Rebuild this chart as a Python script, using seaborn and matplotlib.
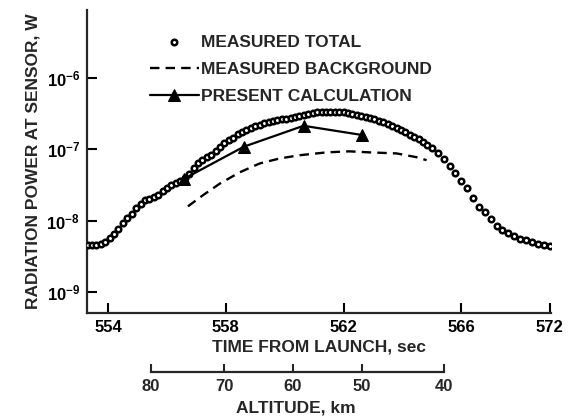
import matplotlib
matplotlib.use("Agg")
import matplotlib.pyplot as plt
from matplotlib.ticker import NullLocator
import seaborn as sns

# ---- data ----
time_total = [553.30, 553.45, 553.60, 553.75, 553.90, 554.05, 554.20, 554.35, 554.50, 554.65,
              554.80, 554.95, 555.10, 555.25, 555.40, 555.55, 555.70, 555.85, 556.00, 556.15,
              556.30, 556.45, 556.60, 556.75, 556.90, 557.05, 557.20, 557.35, 557.50, 557.65,
              557.80, 557.95, 558.10, 558.25, 558.40, 558.55, 558.70, 558.85, 559.00, 559.15,
              559.30, 559.45, 559.60, 559.75, 559.90, 560.05, 560.20, 560.35, 560.50, 560.65,
              560.80, 560.95, 561.10, 561.25, 561.40, 561.55, 561.70, 561.85, 562.00, 562.15,
              562.30, 562.45, 562.60, 562.75, 562.90, 563.05, 563.20, 563.35, 563.50, 563.65,
              563.80, 563.95, 564.10, 564.25, 564.40, 564.55, 564.70, 564.85, 565.00, 565.20,
              565.40, 565.60, 565.80, 566.00, 566.20, 566.40, 566.60, 566.80, 567.00, 567.20,
              567.40, 567.60, 567.80, 568.00, 568.20, 568.40, 568.60, 568.80, 569.00]
power_total = [4.6e-9, 4.6e-9, 4.6e-9, 4.7e-9, 5.0e-9, 5.7e-9, 6.5e-9, 7.6e-9, 9.2e-9, 1.07e-8,
               1.25e-8, 1.48e-8, 1.72e-8, 1.92e-8, 2.03e-8, 2.12e-8, 2.30e-8, 2.62e-8, 2.88e-8, 3.1e-8,
               3.3e-8, 3.6e-8, 3.95e-8, 4.5e-8, 5.5e-8, 6.3e-8, 7.0e-8, 7.7e-8, 8.4e-8, 9.4e-8,
               1.07e-7, 1.2e-7, 1.32e-7, 1.45e-7, 1.62e-7, 1.75e-7, 1.88e-7, 2.0e-7, 2.1e-7, 2.2e-7,
               2.3e-7, 2.38e-7, 2.46e-7, 2.55e-7, 2.62e-7, 2.68e-7, 2.74e-7, 2.82e-7, 2.9e-7, 2.98e-7,
               3.1e-7, 3.2e-7, 3.26e-7, 3.3e-7, 3.33e-7, 3.35e-7, 3.35e-7, 3.34e-7, 3.28e-7, 3.18e-7,
               3.08e-7, 3.02e-7, 2.94e-7, 2.84e-7, 2.72e-7, 2.62e-7, 2.5e-7, 2.38e-7, 2.25e-7, 2.12e-7,
               2.0e-7, 1.87e-7, 1.73e-7, 1.6e-7, 1.5e-7, 1.38e-7, 1.25e-7, 1.15e-7, 1.04e-7, 8.8e-8,
               7.3e-8, 5.8e-8, 4.7e-8, 3.6e-8, 2.9e-8, 2.05e-8, 1.57e-8, 1.3e-8, 1.04e-8, 8.3e-9,
               7.3e-9, 6.6e-9, 6.0e-9, 5.6e-9, 5.3e-9, 5.0e-9, 4.75e-9, 4.55e-9, 4.45e-9]

time_bg = [556.71, 557.22, 557.80, 558.47, 559.15, 559.83, 560.50, 561.42, 562.20, 562.88,
           563.80, 564.48, 564.82]
power_bg = [1.58e-8, 2.26e-8, 3.3e-8, 4.73e-8, 6.3e-8, 7.4e-8, 8.2e-8, 9.0e-8, 9.3e-8, 9.0e-8,
            8.7e-8, 7.7e-8, 7.0e-8]

time_calc = [556.57, 558.61, 560.64, 562.61]
power_calc = [3.83e-8, 1.08e-7, 2.12e-7, 1.58e-7]

xtick_pos = [554, 558, 562, 566, 569]
xtick_labels = ["554", "558", "562", "566", "572"]
ytick_pos = [1e-9, 1e-8, 1e-7, 1e-6]
ytick_labels = [r"$\mathbf{10^{-9}}$", r"$\mathbf{10^{-8}}$", r"$\mathbf{10^{-7}}$", r"$\mathbf{10^{-6}}$"]
alt_time_pos = [555.45, 557.94, 560.28, 562.63, 565.42]
alt_labels = ["80", "70", "60", "50", "40"]

legend_labels = ["MEASURED TOTAL", "MEASURED BACKGROUND", "PRESENT CALCULATION"]

# ---- style ----
sns.set_style("ticks")
plt.rcParams["font.family"] = ["Liberation Sans", "DejaVu Sans"]
plt.rcParams["font.weight"] = "bold"
plt.rcParams["mathtext.fontset"] = "custom"
plt.rcParams["mathtext.rm"] = "Liberation Sans"
plt.rcParams["mathtext.bf"] = "Liberation Sans:bold"

fig = plt.figure(figsize=(5.75, 4.18), dpi=100)
ax = fig.add_axes([0.1513, 0.2512, 0.8070, 0.7249])

sns.lineplot(x=time_bg, y=power_bg, color="black", lw=1.7, linestyle=(0, (4, 2.6)),
             sort=False, errorbar=None, label=legend_labels[1], ax=ax, zorder=2)
sns.scatterplot(x=time_total, y=power_total, marker="o", s=16, facecolor="white",
                edgecolor="black", linewidth=1.8, label=legend_labels[0], ax=ax, zorder=3)
sns.lineplot(x=time_calc, y=power_calc, color="black", lw=1.6, marker="^", markersize=9,
             markeredgecolor="black", sort=False, errorbar=None, label=legend_labels[2],
             ax=ax, zorder=4)

ax.set_yscale("log")
ax.set_xlim(553.28, 569.05)
ax.set_ylim(10 ** -9.294, 10 ** -5.053)
ax.set_xticks(xtick_pos, labels=xtick_labels)
ax.set_yticks(ytick_pos, labels=ytick_labels)
ax.yaxis.set_minor_locator(NullLocator())
ax.xaxis.set_minor_locator(NullLocator())

for s in ["top", "right"]:
    ax.spines[s].set_visible(False)
for s in ["left", "bottom"]:
    ax.spines[s].set_linewidth(1.6)
ax.tick_params(direction="in", length=7, width=1.5, labelsize=12, pad=5, colors="black")

ax.set_xlabel("TIME FROM LAUNCH, sec", fontsize=12.5, fontweight="bold", labelpad=3)
ax.set_ylabel("RADIATION POWER AT SENSOR, W", fontsize=12.5, fontweight="bold", labelpad=4)

# altitude axis
sec = ax.secondary_xaxis(-0.194)
sec.set_xticks(alt_time_pos, labels=alt_labels)
sec.xaxis.set_minor_locator(NullLocator())
sec.spines["bottom"].set_bounds(alt_time_pos[0], alt_time_pos[-1])
sec.spines["bottom"].set_linewidth(1.6)
sec.tick_params(direction="in", length=6, width=1.5, labelsize=12, pad=5)
ax.text(0.45, -0.312, "ALTITUDE, km", transform=ax.transAxes, ha="center", va="center",
        fontsize=12.5, fontweight="bold")

# legend in reference order
handles, labels = ax.get_legend_handles_labels()
hmap = dict(zip(labels, handles))
ax.legend([hmap[l] for l in legend_labels], legend_labels, loc="upper left",
          bbox_to_anchor=(0.136, 0.918), frameon=False, handlelength=2.8,
          handletextpad=0.15, labelspacing=0.69, borderpad=0, borderaxespad=0,
          fontsize=12.5, scatterpoints=1)

fig.savefig("out.png", dpi=100)
